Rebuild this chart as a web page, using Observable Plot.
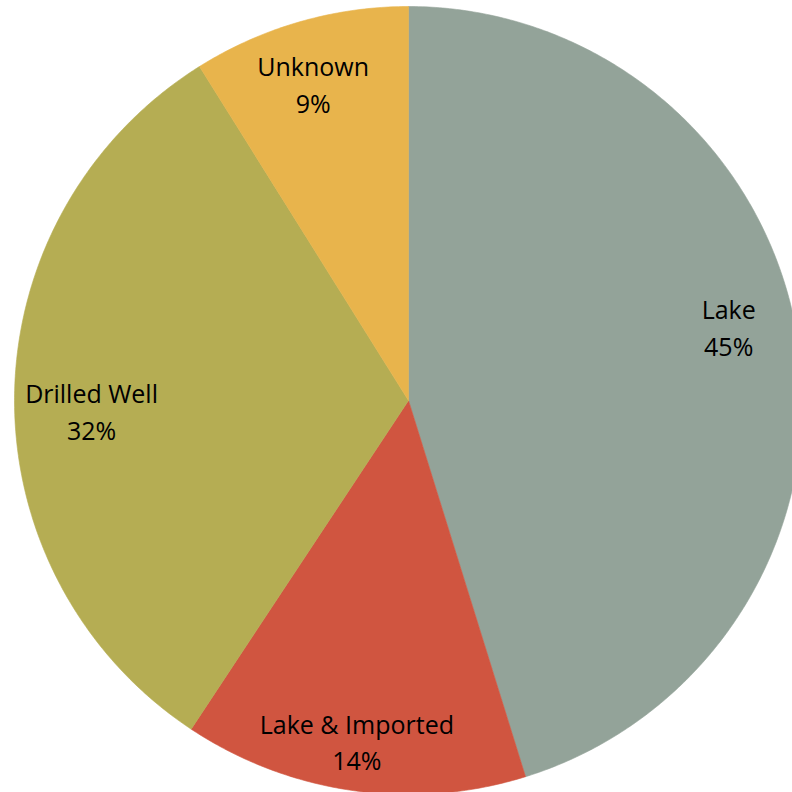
<!DOCTYPE html>
<html>
<head>
<meta charset="utf-8">
<script src="https://cdn.jsdelivr.net/npm/d3@7"></script>
<script src="https://cdn.jsdelivr.net/npm/@observablehq/plot@0.6"></script>
<style>
  html, body { margin: 0; padding: 0; background: #fff; }
  #chart { width: 792px; height: 792px; overflow: hidden; }
</style>
</head>
<body>
<div id="chart"></div>
<script>
// Data (clockwise from 12 o'clock); shares
const categories = ["Lake", "Lake & Imported", "Drilled Well", "Unknown"];
const shares = [45.2, 14.1, 31.8, 8.9];
const colors = ["#93A399", "#D05540", "#B5AD53", "#E8B44C"];

const W = 792, H = 792;
const cx = 408, cy = 400, R = 394; // pixel geometry of the pie

// small label nudges (pixels) mimicking the spreadsheet's best-fit placement
const labelNudge = {"Lake": [-7, -25], "Lake & Imported": [-5, 12], "Drilled Well": [14, 13], "Unknown": [-4, 0]};

const total = d3.sum(shares);
const polyPts = [];
const labels = [];
let acc = 0;
categories.forEach((c, i) => {
  const a0 = acc / total * 2 * Math.PI;
  acc += shares[i];
  const a1 = acc / total * 2 * Math.PI;
  const n = Math.max(2, Math.ceil((a1 - a0) / (Math.PI / 360)));
  polyPts.push({cat: c, x: 0, y: 0});
  for (let k = 0; k <= n; k++) {
    const a = a0 + (a1 - a0) * k / n;
    polyPts.push({cat: c, x: Math.sin(a), y: Math.cos(a)});
  }
  polyPts.push({cat: c, x: 0, y: 0});
  const am = (a0 + a1) / 2;
  const lr = 0.84;
  const [ndx, ndy] = labelNudge[c];
  labels.push({cat: c, x: lr * Math.sin(am) + ndx / R, y: lr * Math.cos(am) - ndy / R,
    text: c + "\n" + Math.round(shares[i] / total * 100) + "%"});
});

const chart = Plot.plot({
  width: W, height: H,
  margin: 0,
  x: {domain: [(0 - cx) / R, (W - cx) / R], axis: null},
  y: {domain: [(cy - H) / R, (cy - 0) / R], axis: null},
  color: {type: "ordinal", domain: categories, range: colors},
  style: {background: "#fff"},
  marks: [
    Plot.line(polyPts, {x: "x", y: "y", z: "cat", fill: "cat", stroke: "cat", strokeWidth: 0.6, curve: "linear-closed", clip: true}),
    Plot.text(labels, {x: "x", y: "y", text: "text", fill: "#000", fontSize: 25, lineHeight: 1.48,
      fontFamily: "'Open Sans', sans-serif", textAnchor: "middle"})
  ]
});
document.getElementById("chart").appendChild(chart);
</script>
</body>
</html>
